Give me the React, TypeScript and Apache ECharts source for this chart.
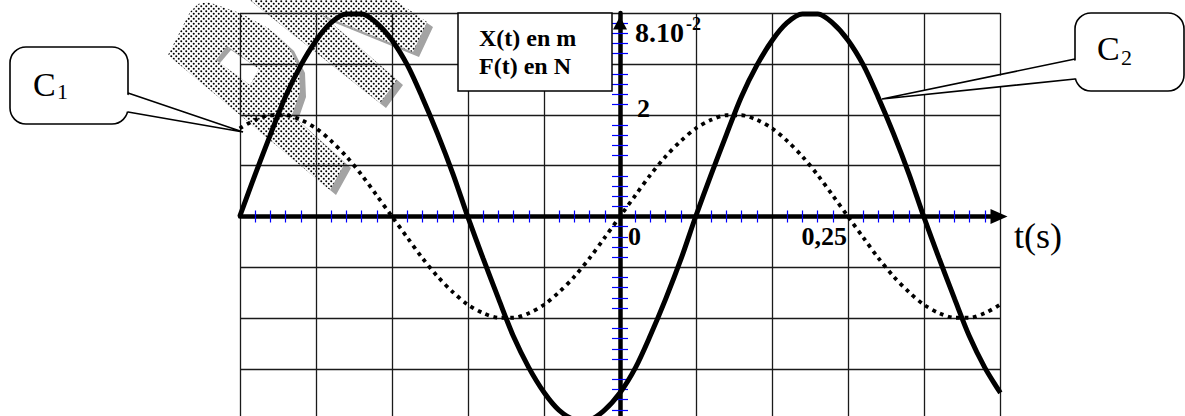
import React, { useEffect, useRef } from "react";
import * as echarts from "echarts";

// time samples (s)
const tSeconds = [
  -0.417, -0.4, -0.383, -0.367, -0.35, -0.333, -0.317, -0.3, -0.283, -0.267,
  -0.25, -0.233, -0.217, -0.2, -0.183, -0.167, -0.15, -0.133, -0.117, -0.1,
  -0.083, -0.067, -0.05, -0.033, -0.017, 0, 0.017, 0.033, 0.05, 0.067,
  0.083, 0.1, 0.117, 0.133, 0.15, 0.167, 0.183, 0.2, 0.217, 0.233,
  0.25, 0.267, 0.283, 0.3, 0.317, 0.333, 0.35, 0.367, 0.383, 0.4, 0.417,
];

// C1 : F(t) in N (dotted)
const forceN = [
  1.73, 1.9, 1.99, 1.99, 1.9, 1.73, 1.49, 1.18, 0.81, 0.42,
  0, -0.42, -0.81, -1.18, -1.49, -1.73, -1.9, -1.99, -1.99, -1.9,
  -1.73, -1.49, -1.18, -0.81, -0.42, 0, 0.42, 0.81, 1.18, 1.49,
  1.73, 1.9, 1.99, 1.99, 1.9, 1.73, 1.49, 1.18, 0.81, 0.42,
  0, -0.42, -0.81, -1.18, -1.49, -1.73, -1.9, -1.99, -1.99, -1.9, -1.73,
];

// C2 : X(t) in 10^-2 m (solid)
const positionCm = [
  0, 1.66, 3.25, 4.7, 5.94, 6.93, 7.61, 7.96, 7.96, 7.61,
  6.93, 5.94, 4.7, 3.25, 1.66, 0, -1.66, -3.25, -4.7, -5.94,
  -6.93, -7.61, -7.96, -7.96, -7.61, -6.93, -5.94, -4.7, -3.25, -1.66,
  0, 1.66, 3.25, 4.7, 5.94, 6.93, 7.61, 7.96, 7.96, 7.61,
  6.93, 5.94, 4.7, 3.25, 1.66, 0, -1.66, -3.25, -4.7, -5.94, -6.93,
];

const timeRange = [-5 / 12, 5 / 12];
const columnRange = [-5, 5];
const forceRange = [-4, 4];
const positionRange = [-8, 8];

const legendLines = ["X(t) en m", "F(t) en N"];
const tickLabels = { zero: "0", quarter: "0,25", two: "2", topMantissa: "8.10", topExponent: "-2", unit: "t(s)" };
const calloutLabels = ["C", "1", "C", "2"];

const serif = "'Liberation Serif', 'Times New Roman', Times, serif";

const dotSvg =
  "<svg xmlns='http://www.w3.org/2000/svg' width='5' height='5'>" +
  "<rect width='5' height='5' fill='white'/>" +
  "<circle cx='1.25' cy='1.25' r='1.0' fill='black'/>" +
  "<circle cx='3.75' cy='3.75' r='1.0' fill='black'/></svg>";

export default function App() {
  const ref = useRef<HTMLDivElement>(null);

  useEffect(() => {
    if (!ref.current) return;
    const chart = echarts.init(ref.current, undefined, { renderer: "svg" });

    const pattern: any = {
      image: "data:image/svg+xml;charset=utf-8," + encodeURIComponent(dotSvg),
      repeat: "repeat",
      imageWidth: 5,
      imageHeight: 5,
    };
    const shadow = "#a3a3a3";
    const shapeA = [
      [168, 55], [190, 12], [198, 4], [208, 2], [240, 13], [268, 28], [288, 46],
      [299, 68], [300, 92], [292, 115], [345, 163], [330, 190],
    ];
    const shapeB = [
      [245, -4], [389, -4], [427, 22], [413, 52], [322, 15], [397, 80], [380, 103],
    ];
    const shift = (pts: number[][], dx: number, dy: number) => pts.map((p) => [p[0] + dx, p[1] + dy]);
    const hole = [[216, 60], [227, 46], [259, 69], [250, 85]];
    const holeInner = [[220, 63], [231, 50], [259, 69], [250, 85]];

    const txt = (text: string, x: number, y: number, size: number, opts: any = {}) => ({
      type: "text",
      x,
      y,
      z: 12,
      style: {
        text,
        fill: "#000",
        fontFamily: serif,
        fontSize: size,
        fontWeight: opts.bold ? "bold" : "normal",
        align: opts.align || "left",
        verticalAlign: "middle",
      },
    });

    const minor = { show: true, splitNumber: 5, length: 6, lineStyle: { color: "#0000ff", width: 1.2 } };
    const minorY = { show: true, splitNumber: 5, length: 8, lineStyle: { color: "#0000ff", width: 1.2 } };

    const option: any = {
      animation: false,
      grid: { left: 240, top: 13, width: 760, height: 407, containLabel: false, outerBoundsMode: "none" },
      xAxis: [
        { type: "value", min: timeRange[0], max: timeRange[1], show: false },
        {
          type: "value", min: columnRange[0], max: columnRange[1], interval: 1, position: "bottom",
          axisLine: {
            show: true, onZero: true, onZeroAxisIndex: 0,
            lineStyle: { color: "#000", width: 4.5 },
            symbol: ["none", "triangle"], symbolSize: [15, 17], symbolOffset: [0, -1],
          },
          axisTick: { show: false, inside: false },
          minorTick: minor,
          axisLabel: { show: false },
          splitLine: { show: true, lineStyle: { color: "#1a1a1a", width: 1.3 } },
        },
        {
          type: "value", min: columnRange[0], max: columnRange[1], interval: 1, position: "bottom",
          axisLine: { show: false, onZero: true, onZeroAxisIndex: 0 },
          axisTick: { show: false, inside: true },
          minorTick: minor,
          axisLabel: { show: false },
          splitLine: { show: false },
        },
      ],
      yAxis: [
        {
          type: "value", min: forceRange[0], max: forceRange[1], interval: 1, position: "left",
          axisLine: {
            show: true, onZero: true, onZeroAxisIndex: 1,
            lineStyle: { color: "#000", width: 4.5 },
            symbol: ["none", "triangle"], symbolSize: [14, 13], symbolOffset: [0, -10],
          },
          axisTick: { show: false, inside: false },
          minorTick: minorY,
          axisLabel: { show: false },
          splitLine: { show: true, lineStyle: { color: "#1a1a1a", width: 1.3 } },
        },
        {
          type: "value", min: forceRange[0], max: forceRange[1], interval: 1, position: "left",
          axisLine: { show: false, onZero: true, onZeroAxisIndex: 1 },
          axisTick: { show: false, inside: true },
          minorTick: minorY,
          axisLabel: { show: false },
          splitLine: { show: false },
        },
        { type: "value", min: positionRange[0], max: positionRange[1], show: false },
      ],
      series: [
        {
          type: "line", name: "C1", xAxisIndex: 0, yAxisIndex: 0,
          data: tSeconds.map((t, i) => [t, forceN[i]]),
          showSymbol: false, smooth: 0.3, z: 3,
          lineStyle: { color: "#000", width: 3.8, type: [3.8, 4.6], cap: "butt" },
        },
        {
          type: "line", name: "C2", xAxisIndex: 0, yAxisIndex: 2,
          data: tSeconds.map((t, i) => [t, positionCm[i]]),
          showSymbol: false, smooth: 0.3, z: 4,
          lineStyle: { color: "#000", width: 5 },
        },
      ],
      graphic: [
        // watermark
        { type: "polygon", z: -9, shape: { points: shift(shapeB, 6, 5) }, style: { fill: shadow } },
        { type: "polygon", z: -9, shape: { points: shift(shapeA, 6, 5) }, style: { fill: shadow } },
        { type: "polygon", z: -8, shape: { points: shapeB }, style: { fill: pattern } },
        { type: "polygon", z: -8, shape: { points: shapeA }, style: { fill: pattern } },
        { type: "polygon", z: -7, shape: { points: hole }, style: { fill: shadow } },
        { type: "polygon", z: -6, shape: { points: holeInner }, style: { fill: "#fff" } },
        // legend box
        { type: "rect", z: 10, shape: { x: 458, y: 13, width: 154, height: 78 }, style: { fill: "#fff", stroke: "#000", lineWidth: 1.5 } },
        txt(legendLines[0], 479, 38, 24, { bold: true }),
        txt(legendLines[1], 479, 66, 24, { bold: true }),
        // axis labels
        txt(tickLabels.zero, 628, 236, 26, { bold: true }),
        txt(tickLabels.quarter, 847, 236, 26, { bold: true, align: "right" }),
        txt(tickLabels.two, 637, 108, 26, { bold: true }),
        txt(tickLabels.topMantissa, 635, 32, 28, { bold: true }),
        txt(tickLabels.topExponent, 686, 24, 18, { bold: true }),
        txt(tickLabels.unit, 1014, 236, 36),
        // callout C1
        { type: "rect", z: 10, shape: { x: 10, y: 47, width: 118, height: 77, r: 16 }, style: { fill: "#fff", stroke: "#000", lineWidth: 1.6 } },
        { type: "polygon", z: 11, shape: { points: [[125, 94], [243, 132], [125, 111]] }, style: { fill: "#fff" } },
        { type: "polyline", z: 12, shape: { points: [[128, 93], [243, 132], [128, 112]] }, style: { stroke: "#000", lineWidth: 1.6, fill: null } },
        txt(calloutLabels[0], 33, 84, 34),
        txt(calloutLabels[1], 57, 91, 22),
        // callout C2
        { type: "rect", z: 10, shape: { x: 1075, y: 13, width: 109, height: 78, r: 16 }, style: { fill: "#fff", stroke: "#000", lineWidth: 1.6 } },
        { type: "polygon", z: 11, shape: { points: [[1078, 60], [882, 99], [1078, 78]] }, style: { fill: "#fff" } },
        { type: "polyline", z: 12, shape: { points: [[1075, 59], [882, 99], [1075, 79]] }, style: { stroke: "#000", lineWidth: 1.6, fill: null } },
        txt(calloutLabels[2], 1097, 48, 34),
        txt(calloutLabels[3], 1121, 57, 22),
      ],
    };

    chart.setOption(option);
    return () => chart.dispose();
  }, []);

  return (
    <div
      ref={ref}
      style={{ position: "fixed", left: 0, top: 0, width: 1185, height: 430, background: "#fff" }}
    />
  );
}
